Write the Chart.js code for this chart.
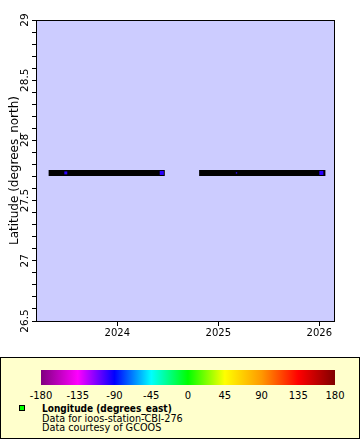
<!DOCTYPE html>
<html>
<head>
<meta charset="utf-8">
<script src="https://cdn.jsdelivr.net/npm/chart.js@4.4.1/dist/chart.umd.min.js"></script>
<style>
  html, body { margin: 0; padding: 0; background: #fff; }
  body { width: 360px; height: 440px; position: relative; overflow: hidden; font-family: 'DejaVu Sans', sans-serif; color: #000; }
  #plot { position: absolute; left: 0; top: 0; }
  #legend { position: absolute; left: 0; top: 357px; width: 360px; height: 82px; box-sizing: border-box; border: 1px solid #000; background: #ffffcc; }
  #bar { position: absolute; left: 40px; top: 12px; width: 294px; height: 15px; }
  .lon { position: absolute; top: 32px; font-size: 10px; line-height: 12px; transform: translateX(-50%); white-space: nowrap; }
  #swatch { position: absolute; left: 18px; top: 47px; width: 6px; height: 6px; box-sizing: border-box; border: 1px solid #000; background: #00ff00; }
  #info { position: absolute; left: 41px; top: 46px; font-size: 9.7px; line-height: 9.6px; white-space: nowrap; }
  #info b { font-family: 'DejaVu Sans Condensed', 'DejaVu Sans', sans-serif; font-weight: bold; font-size: 10px; }
</style>
</head>
<body>
<canvas id="plot" width="360" height="355"></canvas>
<div id="legend">
  <div id="bar"></div>
  <div id="swatch"></div>
  <div id="info"><b>Longitude (degrees_east)</b><br>Data for ioos-station-CBI-276<br>Data courtesy of GCOOS</div>
</div>
<script>
// time as decimal years, latitude in degrees_north
const years = [2024, 2025, 2026]
const latTicks = [26.5, 27, 27.5, 28, 28.5, 29]
const trackTimes = [2023.32, 2024.47, 2024.64, 2024.81, 2026.06]
const trackLat = [27.73, 27.73, null, 27.73, 27.73]
const markTimes = [2023.49, 2024.44, 2025.18, 2026.02]
const markLat = [27.73, 27.73, 27.73, 27.73]
const markLon = [-97.2, -97.2, -97.2, -97.2]
const markSize = [2.1, 2.9, 1.0, 2.9]

// colour bar for longitude
const lonTicks = [-180, -135, -90, -45, 0, 45, 90, 135, 180]
const lonColors = ['#800080', '#ff00ff', '#0000ff', '#00ffff', '#00ff00', '#ffff00', '#ff9900', '#ff0000', '#800000']

const hex = c => [1, 3, 5].map(i => parseInt(c.substr(i, 2), 16))
function colorFor (lon) {
    let i = 0
    while (i < lonTicks.length - 2 && lon > lonTicks[i + 1]) i++
    const t = (lon - lonTicks[i]) / (lonTicks[i + 1] - lonTicks[i])
    const a = hex(lonColors[i]), b = hex(lonColors[i + 1])
    return 'rgb(' + a.map((v, k) => Math.round(v + (b[k] - v) * t)).join(',') + ')'
}

const bar = document.getElementById('bar')
bar.style.background = 'linear-gradient(to right, ' + lonColors.map((c, i) => c + ' ' + (i * 100 / (lonColors.length - 1)) + '%').join(', ') + ')'
lonTicks.forEach((v, i) => {
    const s = document.createElement('div')
    s.className = 'lon'
    s.style.left = (40 + i * 294 / (lonTicks.length - 1)) + 'px'
    s.textContent = v
    document.getElementById('legend').appendChild(s)
})

const plotFrame = {
    id: 'plotFrame',
    beforeDraw (chart) {
        const {ctx, chartArea: a} = chart
        ctx.save()
        ctx.fillStyle = '#ccccff'
        ctx.fillRect(a.left, a.top, a.width, a.height)
        ctx.restore()
    },
    afterDraw (chart) {
        const {ctx, chartArea: a} = chart
        ctx.save()
        ctx.strokeStyle = '#000'
        ctx.lineWidth = 1
        ctx.strokeRect(Math.round(a.left) + 0.5, Math.round(a.top) + 0.5, Math.round(a.width) - 1, Math.round(a.height))
        ctx.restore()
    }
}

const font = {family: 'DejaVu Sans', size: 10}

new Chart(document.getElementById('plot'), {
    type: 'scatter',
    data: {
        datasets: [{
            data: markTimes.map((t, i) => ({x: t, y: markLat[i]})),
            pointStyle: 'rect',
            pointRadius: markSize,
            backgroundColor: markLon.map(colorFor),
            borderWidth: 0
        }, {
            data: trackTimes.map((t, i) => ({x: t, y: trackLat[i]})),
            showLine: true,
            spanGaps: false,
            borderColor: '#000',
            borderWidth: 6,
            pointRadius: 0
        }]
    },
    options: {
        responsive: false,
        animation: false,
        events: [],
        layout: {padding: {left: 8, top: 20, right: 25, bottom: 0}},
        plugins: {legend: {display: false}, tooltip: {enabled: false}},
        scales: {
            x: {
                type: 'linear',
                min: 2023.195,
                max: 2026.155,
                afterBuildTicks: s => { s.ticks = years.map(v => ({value: v})) },
                afterFit: s => { s.height = 34 },
                ticks: {callback: v => String(v), font, color: '#000', padding: 1, maxRotation: 0},
                grid: {drawOnChartArea: false, color: '#000', tickLength: 5},
                border: {display: false}
            },
            y: {
                min: 26.5,
                max: 29,
                afterFit: s => { s.width = 28 },
                ticks: {
                    stepSize: 0.1,
                    autoSkip: false,
                    minRotation: 90,
                    maxRotation: 90,
                    crossAlign: 'center',
                    padding: -5,
                    font: {family: 'DejaVu Sans', size: 10.5},
                    color: '#000',
                    callback: v => {
                        const t = latTicks.find(t => Math.abs(t - v) < 1e-6)
                        return t === undefined ? '' : String(t)
                    }
                },
                grid: {drawOnChartArea: false, color: '#000', tickLength: 4},
                border: {display: false},
                title: {display: true, text: 'Latitude (degrees_north)', font: {family: 'DejaVu Sans', size: 12}, color: '#000', padding: 0}
            }
        }
    },
    plugins: [plotFrame]
})
</script>
</body>
</html>
